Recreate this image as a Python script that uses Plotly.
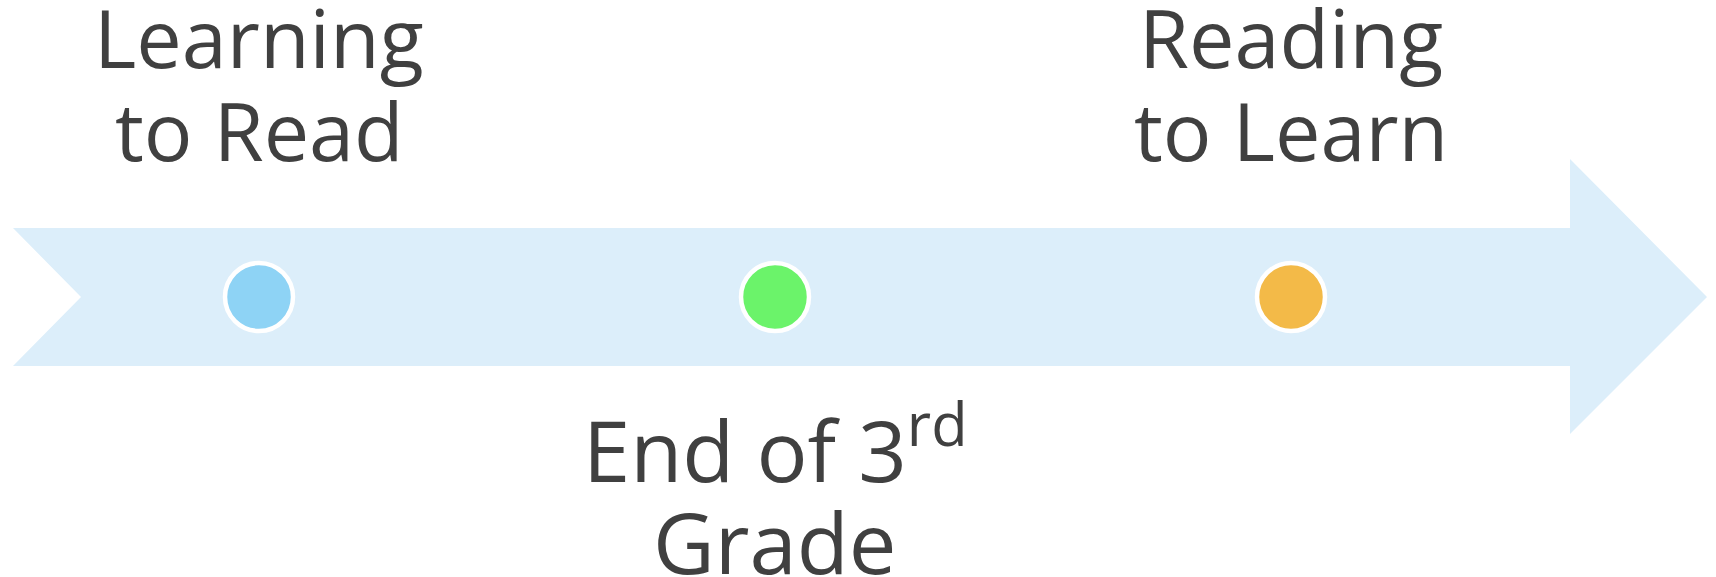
import plotly.graph_objects as go

# ---- data ----
stage_index = [0, 1, 2]
stage_colors = ["#8ED3F5", "#6BF36A", "#F3BA48"]
top_labels = {0: ["Learning", "to Read"], 2: ["Reading", "to Learn"]}
bottom_labels = {1: ["End of 3<sup>rd</sup>", "Grade"]}

W, H = 1716, 577
X0_PX, STEP_PX = 259, 516       # pixel position of stage 0, pixels per stage
CY_PX = 297                      # arrow centre line (pixels from top)

def px2x(px):
    return (px - X0_PX) / STEP_PX

def py2y(py):
    return CY_PX - py

fig = go.Figure()

# arrow (pixel outline converted into axis units)
arrow_px = [(13, 228), (1570, 228), (1570, 159), (1707, 297), (1570, 434),
            (1570, 366), (13, 366), (81, 297), (13, 228)]
fig.add_trace(go.Scatter(
    x=[px2x(p[0]) for p in arrow_px], y=[py2y(p[1]) for p in arrow_px],
    mode="lines", fill="toself", fillcolor="#DCEEFA",
    line=dict(width=0, color="#DCEEFA"), hoverinfo="skip", showlegend=False))

fig.add_trace(go.Scatter(
    x=stage_index, y=[0] * len(stage_index), mode="markers",
    marker=dict(size=68, color=stage_colors, line=dict(color="white", width=4.5)),
    hoverinfo="skip", showlegend=False))

font_top = dict(family="Open Sans", size=81, color="#404040")
font_bot = dict(family="Open Sans", size=85, color="#404040")
top_mids = [36.5, 129]
bot_mids = [444.5, 541]
for i, lines in top_labels.items():
    for ln, mid in zip(lines, top_mids):
        fig.add_annotation(x=i, y=py2y(mid), text=ln, showarrow=False,
                           xanchor="center", yanchor="middle", font=font_top)
for i, lines in bottom_labels.items():
    for ln, mid in zip(lines, bot_mids):
        fig.add_annotation(x=i, y=py2y(mid), text=ln, showarrow=False,
                           xanchor="center", yanchor="middle", font=font_bot)

fig.update_layout(
    width=W, height=H, margin=dict(l=0, r=0, t=0, b=0),
    paper_bgcolor="white", plot_bgcolor="white",
    xaxis=dict(range=[px2x(0), px2x(W)], visible=False, fixedrange=True),
    yaxis=dict(range=[py2y(H), py2y(0)], visible=False, fixedrange=True),
)
fig.write_html("out.html", config={"displayModeBar": False},
               post_script="document.body.style.margin='0';document.body.style.overflow='hidden';")
